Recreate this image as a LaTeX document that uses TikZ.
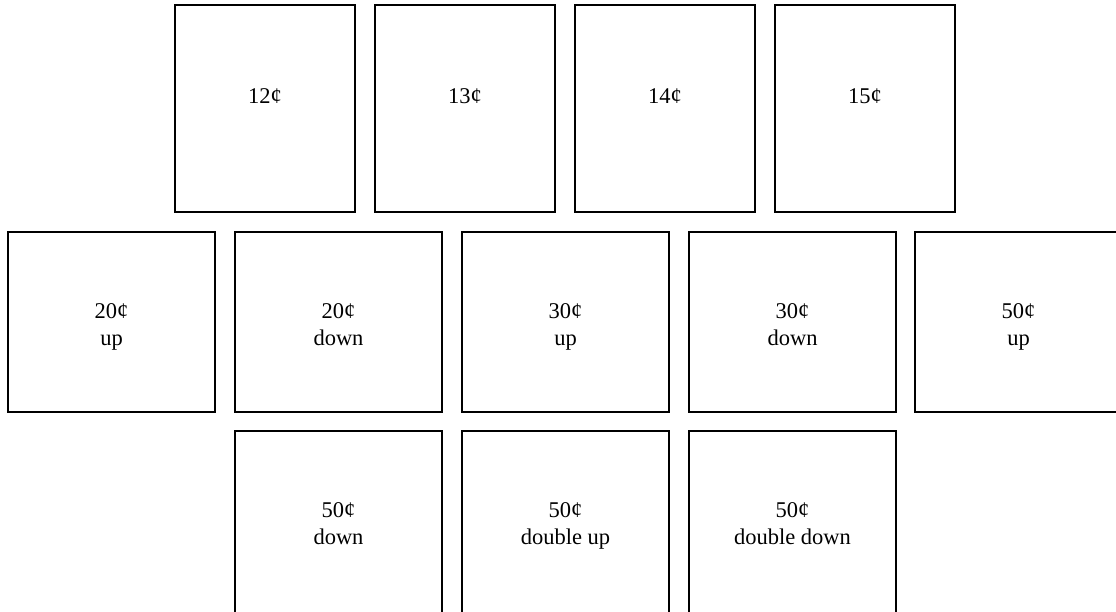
\documentclass[tikz,border=0pt]{standalone}
\usepackage{fontspec}
\setmainfont{Liberation Serif}
\begin{document}
\begin{tikzpicture}[x=1pt,y=-1pt,
  cardbox/.style={draw, line width=1.2pt, inner sep=0pt},
  topcard/.style={cardbox, minimum width=180pt, minimum height=207pt},
  midcard/.style={cardbox, minimum width=207pt, minimum height=180pt},
  lowcard/.style={cardbox, minimum width=207pt, minimum height=207pt},
  lbl/.style={font=\fontsize{22.5}{27}\selectfont, align=center, inner sep=0pt, anchor=base}]
\useasboundingbox (0,0) rectangle (1116,611);
\clip (0,0) rectangle (1116,611);
% top row
\node[topcard] (b12) at (265,108.5) {};
\node[topcard] (b13) at (465,108.5) {};
\node[topcard] (b14) at (665,108.5) {};
\node[topcard] (b15) at (865,108.5) {};
\node[lbl] (t12) at (265,103) {12¢};
\node[lbl] (t13) at (465,103) {13¢};
\node[lbl] (t14) at (665,103) {14¢};
\node[lbl] (t15) at (865,103) {15¢};
% middle row
\node[midcard] (b20u) at (111.5,322) {};
\node[midcard] (b20d) at (338.5,322) {};
\node[midcard] (b30u) at (565.5,322) {};
\node[midcard] (b30d) at (792.5,322) {};
\node[midcard] (b50u) at (1018.5,322) {};
\node[lbl] (t20u) at (111.5,345) {20¢\\up};
\node[lbl] (t20d) at (338.5,345) {20¢\\down};
\node[lbl] (t30u) at (565.5,345) {30¢\\up};
\node[lbl] (t30d) at (792.5,345) {30¢\\down};
\node[lbl] (t50u) at (1018.5,345) {50¢\\up};
% bottom row
\node[lowcard] (b50d) at (338.5,534.5) {};
\node[lowcard] (b50du) at (565.5,534.5) {};
\node[lowcard] (b50dd) at (792.5,534.5) {};
\node[lbl] (t50d) at (338.5,544) {50¢\\down};
\node[lbl] (t50du) at (565.5,544) {50¢\\double up};
\node[lbl] (t50dd) at (792.5,544) {50¢\\double down};
\end{tikzpicture}
\end{document}
